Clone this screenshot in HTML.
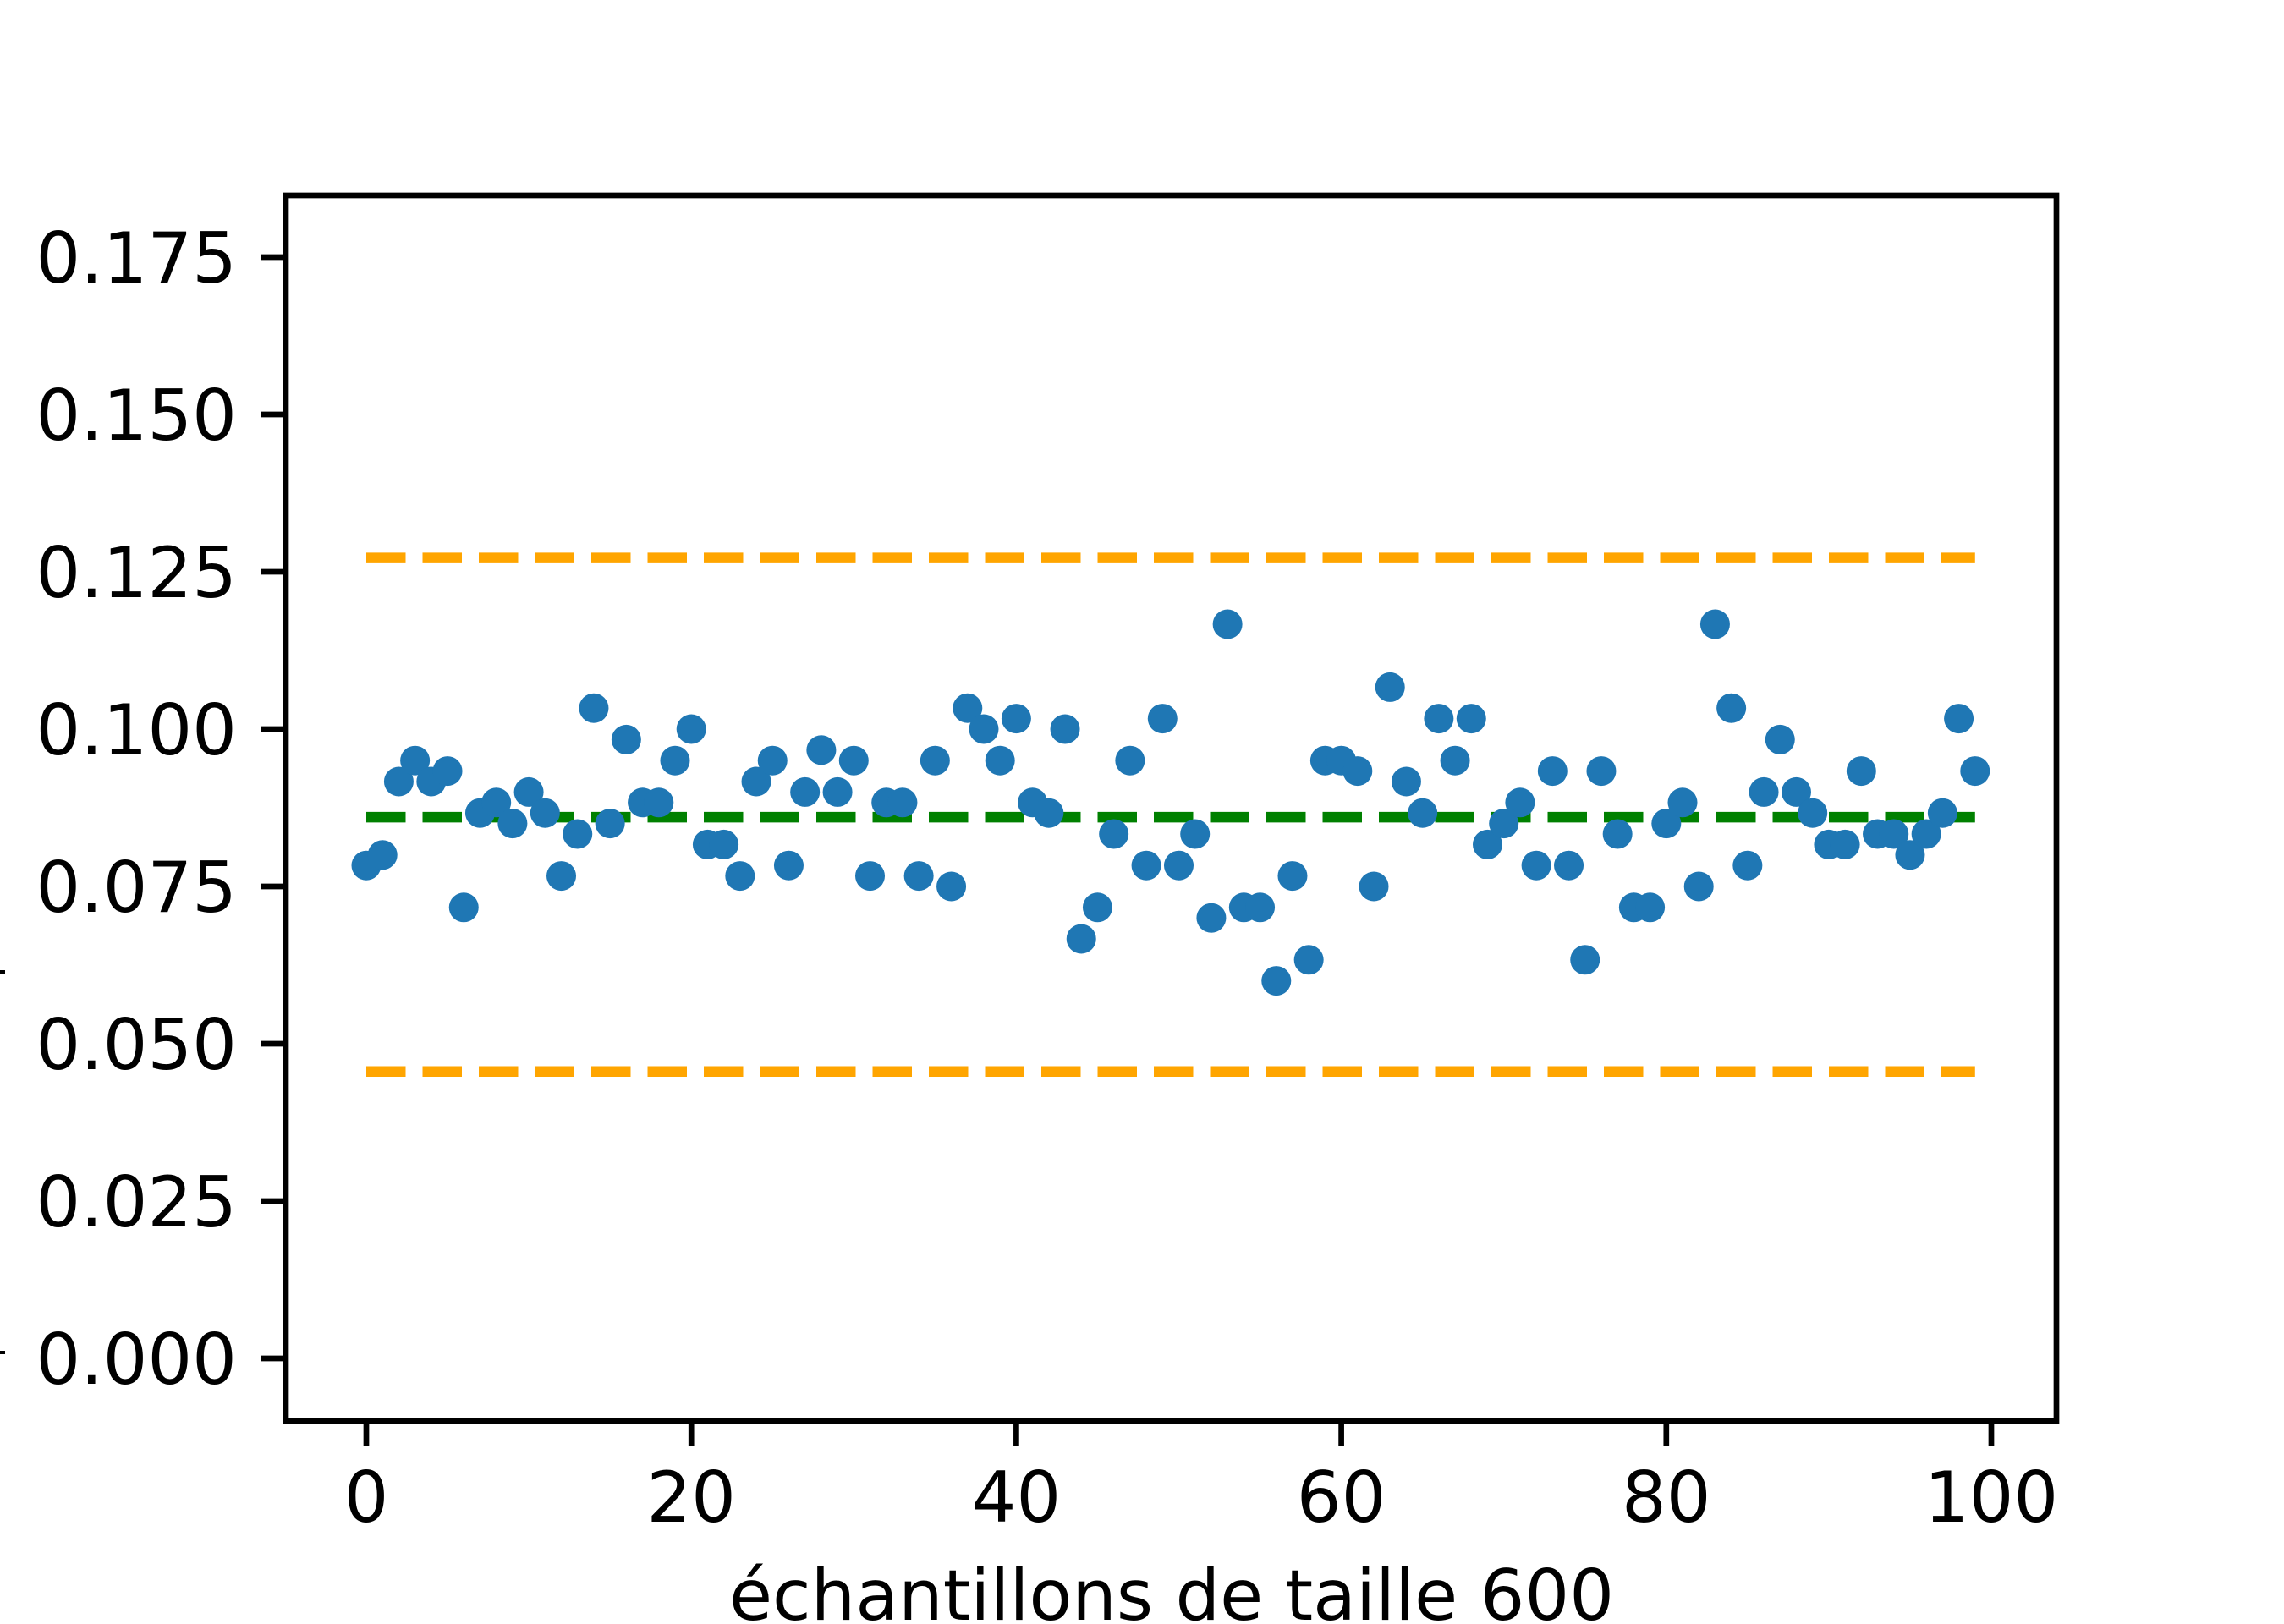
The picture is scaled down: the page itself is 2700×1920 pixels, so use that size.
<!DOCTYPE html>
<html><head><meta charset="utf-8"><style>
html,body{margin:0;padding:0;background:#fff;}
svg{display:block;}
text{font-family:"DejaVu Sans","Liberation Sans",sans-serif;fill:#000;}
</style></head><body>
<svg id="chart" width="2700" height="1920" viewBox="0 0 2700 1920" xmlns="http://www.w3.org/2000/svg">
<rect x="0" y="0" width="2700" height="1920" fill="#fff"/>
<rect x="0" y="1147" width="6" height="4" fill="#000"/>
<rect x="0" y="1597" width="6" height="4" fill="#000"/>
<g id="lines"></g>
<g id="points"></g>
<g id="axes"></g>
<text x="1385" y="1915" font-size="83" text-anchor="middle">échantillons de taille 600</text>
</svg>
<script>
const sampleIndex = Array.from({length:100},(_,i)=>i);
const sampleCounts = [47,48,55,57,55,56,43,52,53,51,54,52,46,50,62,51,59,53,53,57,
60,49,49,46,55,57,47,54,58,54,57,46,53,53,46,57,45,62,60,57,
61,53,52,60,40,43,50,57,47,61,47,50,42,70,43,43,36,46,38,57,
57,56,45,64,55,52,61,57,61,49,51,53,47,56,47,38,56,50,43,43,
51,53,45,70,62,47,54,59,54,52,49,49,56,50,50,48,50,52,61,56];
const sampleSize = 600;
const meanLine = 0.0860;
const upperBound = 0.1272;
const lowerBound = 0.0456;
const yTicks = [0,0.025,0.05,0.075,0.1,0.125,0.15,0.175];
const yTickLabels = ["0.000","0.025","0.050","0.075","0.100","0.125","0.150","0.175"];
const xTicks = [0,20,40,60,80,100];
const xTickLabels = ["0","20","40","60","80","100"];

const PL=338, PR=2431, PT=231, PB=1680;
function xs(v){return 433 + v*19.21;}
function ys(v){return 1606 - v*7440;}
const NS="http://www.w3.org/2000/svg";
function mk(tag,attrs,parent){const e=document.createElementNS(NS,tag);for(const k in attrs)e.setAttribute(k,attrs[k]);parent.appendChild(e);return e;}

const lines=document.getElementById('lines');
[[upperBound,'#ffa500','upper-bound-line'],[lowerBound,'#ffa500','lower-bound-line'],[meanLine,'#008000','mean-line']].forEach(([v,c,n])=>{
  const l=mk('line',{x1:xs(0),x2:xs(99),y1:ys(v),y2:ys(v),stroke:c,'stroke-width':12.5,'stroke-dasharray':'46.5 20'},lines);
  
  
});

const pts=document.getElementById('points');
sampleIndex.forEach((i,k)=>{
  const c=mk('circle',{cx:xs(i),cy:ys(sampleCounts[k]/sampleSize),r:17.5,fill:'#1f77b4'},pts);
  
  
});

const ax=document.getElementById('axes');
const frame=mk('rect',{x:PL,y:PT,width:PR-PL,height:PB-PT,fill:'none',stroke:'#000','stroke-width':6.7},ax);


yTicks.forEach((v,k)=>{
  const y=ys(v);
  const t=mk('line',{x1:PL-29,x2:PL,y1:y,y2:y,stroke:'#000','stroke-width':6.7},ax);
  
  
  const tx=mk('text',{x:280,y:y+30,'font-size':83,'text-anchor':'end'},ax);
  tx.textContent=yTickLabels[k];
  
  
});
xTicks.forEach((v,k)=>{
  const x=xs(v);
  const t=mk('line',{x1:x,x2:x,y1:PB,y2:PB+29,stroke:'#000','stroke-width':6.7},ax);
  
  
  const tx=mk('text',{x:x,y:1799,'font-size':83,'text-anchor':'middle'},ax);
  tx.textContent=xTickLabels[k];
  
  
});
</script>
</body></html>
